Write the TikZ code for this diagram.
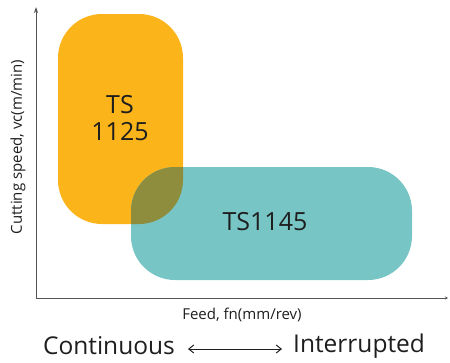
\documentclass[tikz,border=0pt]{standalone}
\usepackage{fontspec}
\setmainfont{Open Sans}
\usetikzlibrary{arrows.meta}
\definecolor{orng}{RGB}{251,180,26}
\definecolor{teal2}{RGB}{120,197,197}
\definecolor{olive2}{RGB}{142,141,62}
\definecolor{axisgray}{RGB}{85,85,85}
\definecolor{txt}{RGB}{30,30,30}
\tikzset{
  box/.style={rounded corners=44pt},
  axisline/.style={draw=axisgray, line width=0.9pt},
  lbl/.style={text=txt, inner sep=0pt},
}
\begin{document}
\begin{tikzpicture}[x=1pt,y=-1pt]
\useasboundingbox (0,0) rectangle (450,362);
% boxes
\fill[orng, box] (58,14) rectangle (183,224);
\fill[teal2, box] (131,167) rectangle (412,280);
\begin{scope}
  \clip[box] (58,14) rectangle (183,224);
  \fill[olive2, box] (131,167) rectangle (412,280);
\end{scope}
\node[lbl, align=center, font=\fontsize{25}{27}\selectfont] (ts1125) at (120,118) {TS\\1125};
\node[lbl, font=\fontsize{25}{28}\selectfont] (ts1145) at (265,222) {TS1145};
% axes
\coordinate (origin) at (36,298);
\coordinate (ytop) at (36,7);
\coordinate (xend) at (448,298);
\draw[axisline, -{Stealth[length=6pt,width=4pt]}] (origin) -- (ytop);
\draw[axisline, -{Stealth[length=3pt,width=3pt]}] (origin) -- (xend);
\node[lbl, rotate=90, font=\fontsize{15}{17}\selectfont] (ylab) at (18,147) {Cutting speed, vc(m/min)};
\node[lbl, font=\fontsize{15}{17}\selectfont] (xlab) at (242,315) {Feed, fn(mm/rev)};
% bottom
\node[lbl, anchor=east, font=\fontsize{24.5}{28}\selectfont] (cont) at (175,346) {Continuous};
\node[lbl, anchor=west, font=\fontsize{24.5}{28}\selectfont] (intr) at (293,346) {Interrupted};
\coordinate (al) at (188,349);
\coordinate (ar) at (282,349);
\draw[txt, line width=1pt, {Straight Barb[length=5pt,width=8pt]}-{Straight Barb[length=5pt,width=8pt]}] (al) -- (ar);
\end{tikzpicture}
\end{document}
